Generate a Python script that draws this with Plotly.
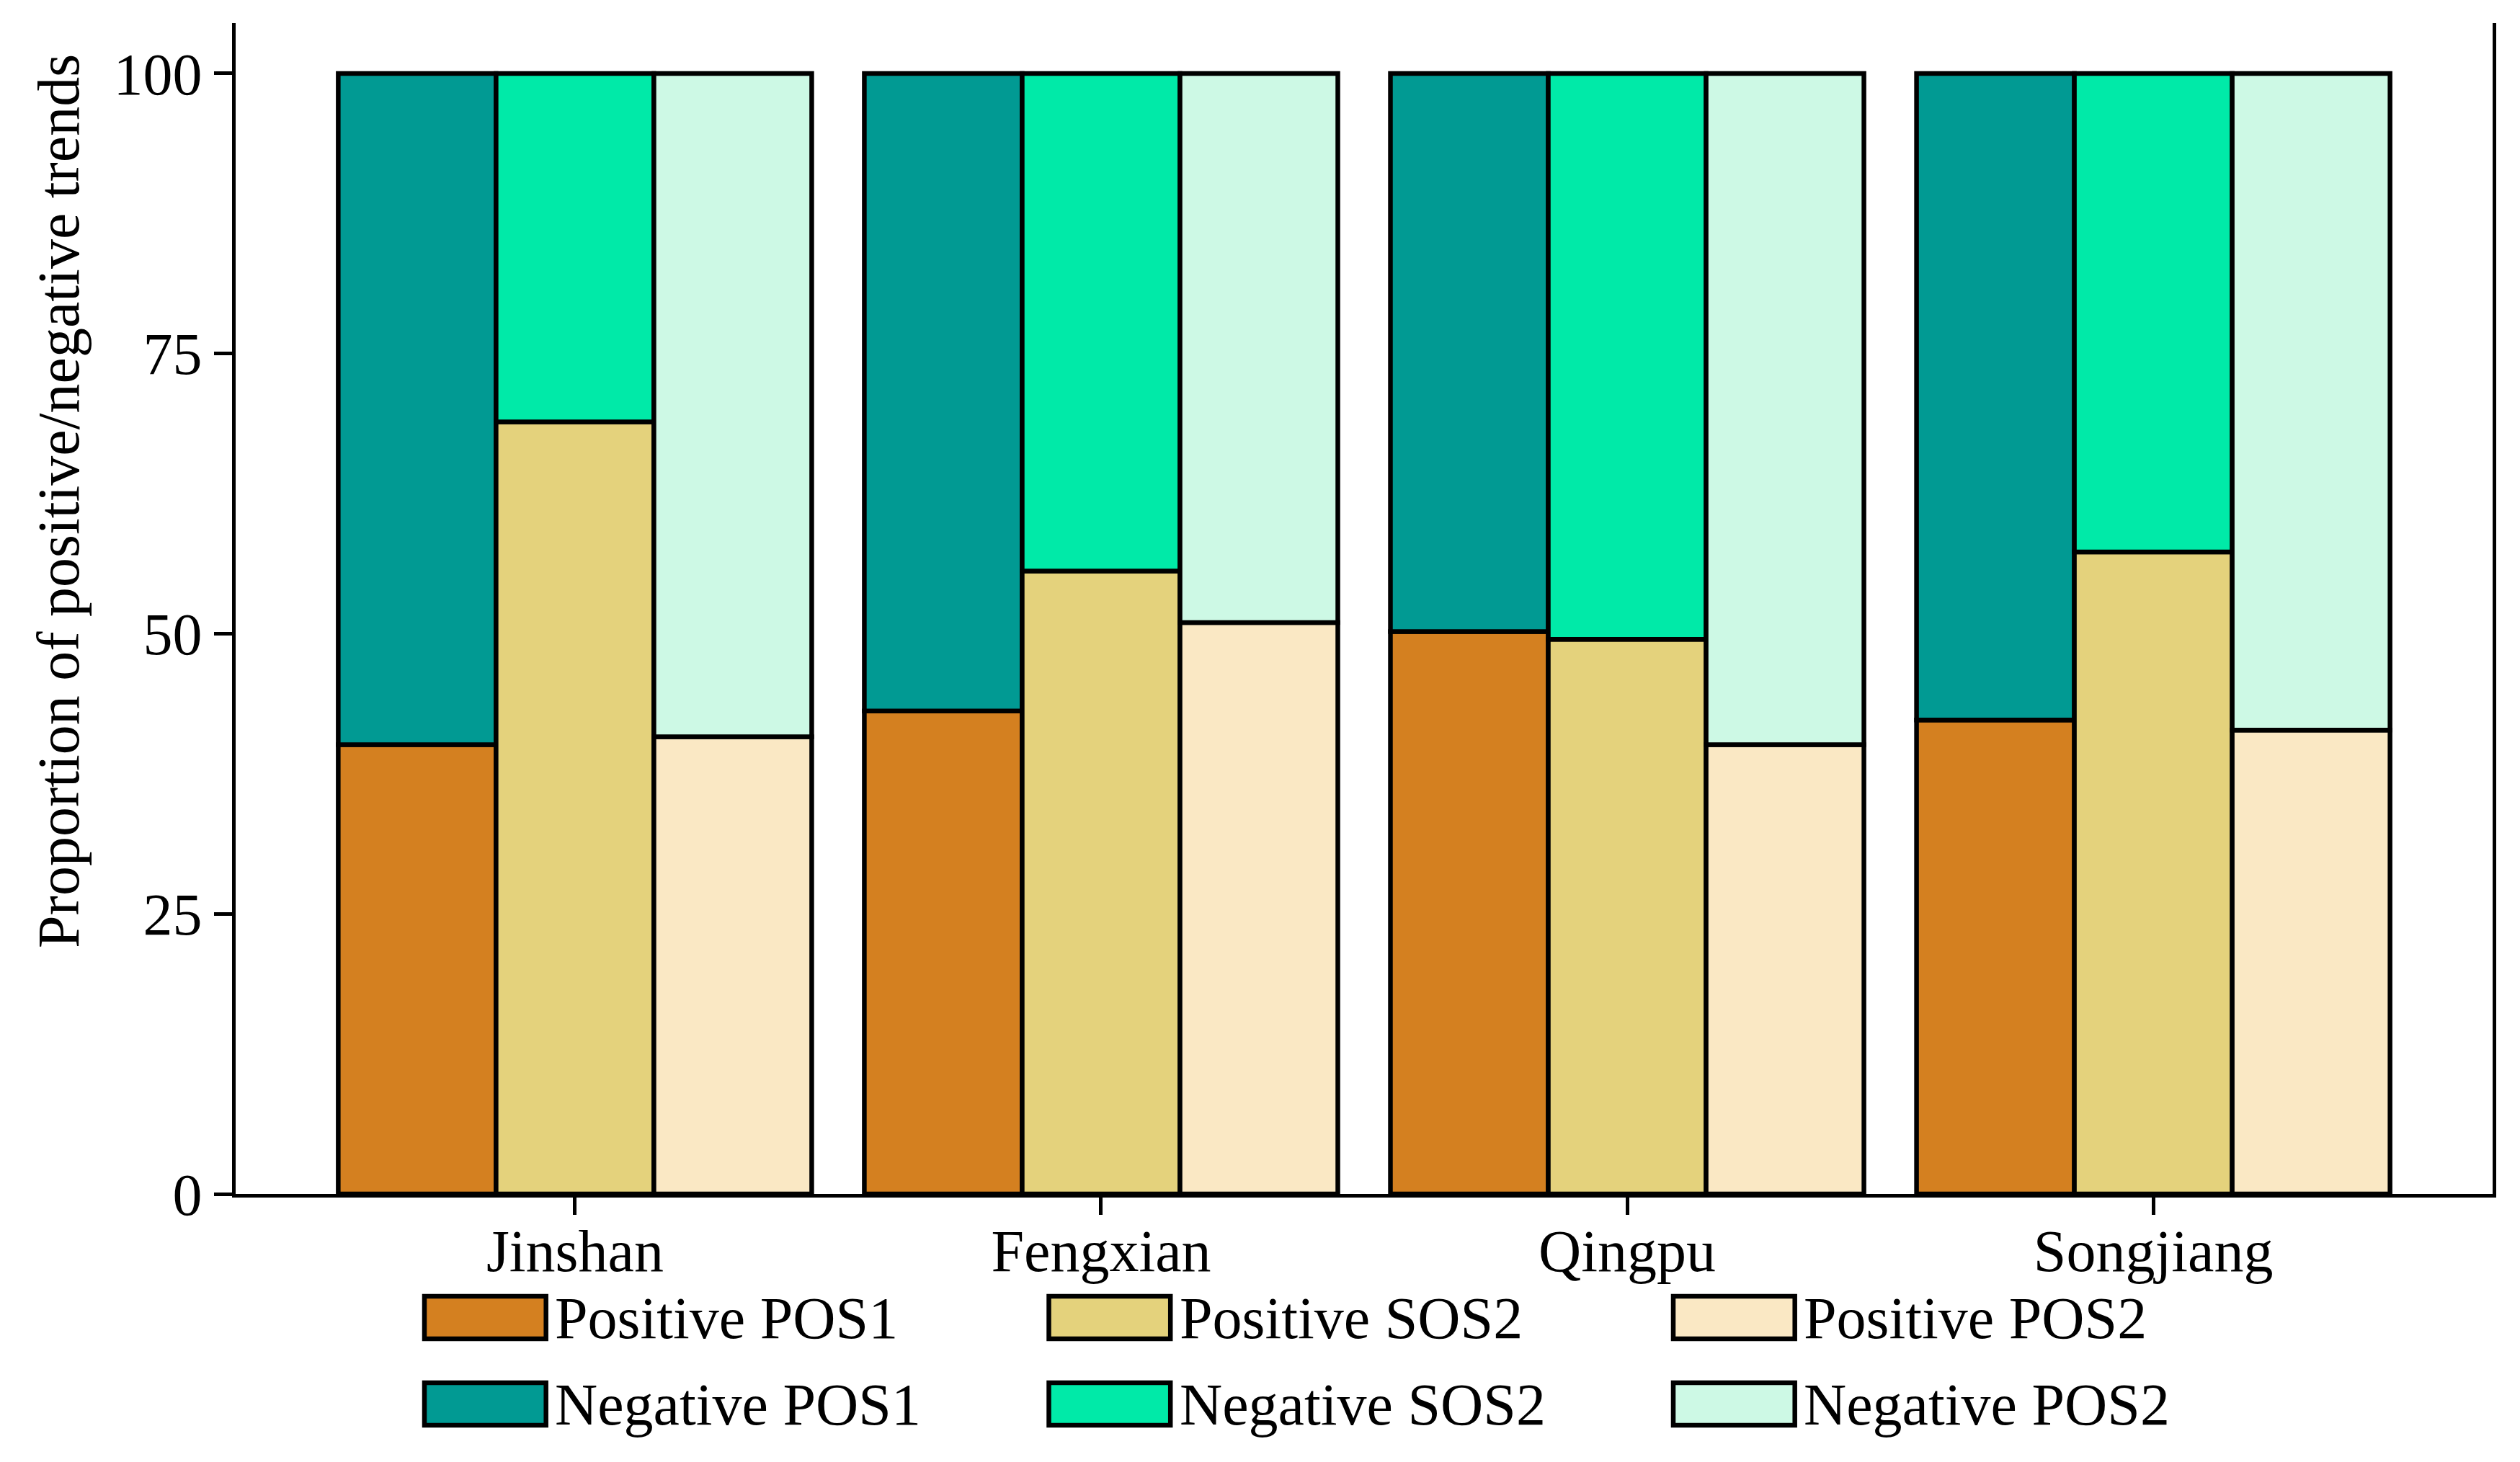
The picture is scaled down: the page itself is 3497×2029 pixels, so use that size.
import plotly.graph_objects as go

# ---- data ----
districts = ["Jinshan", "Fengxian", "Qingpu", "Songjiang"]
positive_pos1 = [40.1, 43.1, 50.2, 42.3]
positive_sos2 = [68.9, 55.6, 49.5, 57.3]
positive_pos2 = [40.8, 51.0, 40.1, 41.4]
negative_pos1 = [100 - v for v in positive_pos1]
negative_sos2 = [100 - v for v in positive_sos2]
negative_pos2 = [100 - v for v in positive_pos2]
y_ticks = [0, 25, 50, 75, 100]

pos_names = ["Positive POS1", "Positive SOS2", "Positive POS2"]
neg_names = ["Negative POS1", "Negative SOS2", "Negative POS2"]
pos_colors = ["#D48020", "#E4D27C", "#FAE8C4"]
neg_colors = ["#019A93", "#00EAA8", "#CDF9E5"]

W, H = 3497, 2029
L, R, T, B = 319, 3451, 24, 1649
FONT = "Liberation Serif, Times New Roman, serif"
FS = 82
EDGE = 6.5

def px2x(px):
    return (px - L) / (R - L)

def px2y(py):
    return (B - py) / (B - T)

fig = go.Figure()
offsets = [-0.45, -0.15, 0.15]
pos_series = [positive_pos1, positive_sos2, positive_pos2]
neg_series = [negative_pos1, negative_sos2, negative_pos2]
for i in range(3):
    fig.add_trace(go.Bar(
        x=districts, y=pos_series[i], name=pos_names[i],
        width=0.3, offset=offsets[i],
        marker=dict(color=pos_colors[i], line=dict(color="black", width=EDGE)),
        showlegend=False,
    ))
    fig.add_trace(go.Bar(
        x=districts, y=neg_series[i], base=pos_series[i], name=neg_names[i],
        width=0.3, offset=offsets[i],
        marker=dict(color=neg_colors[i], line=dict(color="black", width=EDGE)),
        showlegend=False,
    ))

# manual legend (large swatches like the reference)
shapes = []
annotations = []
col_dx = 866.5
rows_y = [(1791, 1850), (1911, 1970)]
for r, (names, colors) in enumerate([(pos_names, pos_colors), (neg_names, neg_colors)]):
    y0, y1 = rows_y[r]
    for c in range(3):
        x0 = 581 + c * col_dx
        x1 = 749.7 + c * col_dx
        shapes.append(dict(type="rect", xref="paper", yref="paper",
                           x0=px2x(x0), x1=px2x(x1), y0=px2y(y1), y1=px2y(y0),
                           fillcolor=colors[c], line=dict(color="black", width=EDGE)))
        annotations.append(dict(xref="paper", yref="paper",
                                x=px2x(760 + c * col_dx), y=px2y((y0 + y1) / 2 + 1),
                                xanchor="left", yanchor="middle", showarrow=False,
                                text=names[c], font=dict(family=FONT, size=FS, color="black")))

annotations.append(dict(xref="paper", yref="paper", x=px2x(73), y=px2y(688),
                        xanchor="center", yanchor="middle", showarrow=False, textangle=-90,
                        text="Proportion of positive/negative trends",
                        font=dict(family=FONT, size=FS, color="black")))

fig.update_layout(
    width=W, height=H,
    margin=dict(l=L, r=W - R, t=T, b=H - B, pad=0),
    barmode="overlay",
    plot_bgcolor="white", paper_bgcolor="white",
    font=dict(family=FONT, size=FS, color="black"),
    shapes=shapes, annotations=annotations,
    xaxis=dict(type="category", range=[-0.645, 3.645], showline=True, linecolor="black",
               linewidth=5, ticks="outside", ticklen=24, tickwidth=4.5, tickcolor="black",
               showgrid=False, zeroline=False, mirror=False, ticklabelstandoff=-20,
               tickfont=dict(family=FONT, size=FS, color="black")),
    yaxis=dict(range=[0, 104.5], tickvals=y_ticks, showline=True, linecolor="black",
               linewidth=5, ticks="outside", ticklen=25, tickwidth=5, tickcolor="black",
               showgrid=False, zeroline=False, mirror=True,
               tickfont=dict(family=FONT, size=FS, color="black")),
)

fig.write_html("out.html")
